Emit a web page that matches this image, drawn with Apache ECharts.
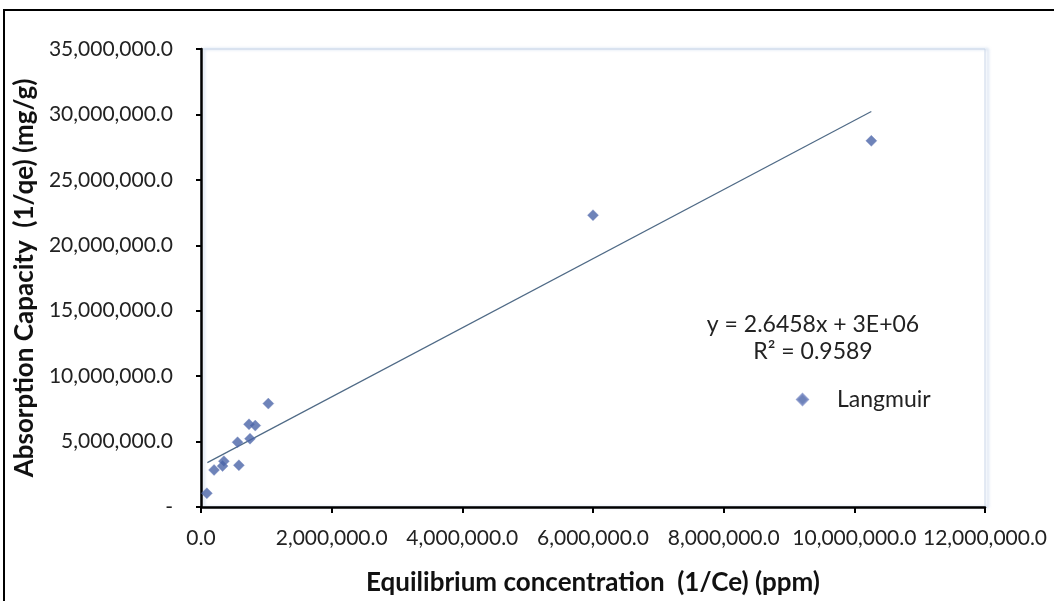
<!DOCTYPE html>
<html>
<head>
<meta charset="utf-8">
<script src="https://cdn.jsdelivr.net/npm/echarts@6/dist/echarts.min.js"></script>
<style>
  html, body { margin: 0; padding: 0; background: #fff; }
  #container { width: 1054px; height: 601px; }
</style>
</head>
<body>
<div id="container"></div>
<script>
// Langmuir points
var xValues = [90000, 200000, 330000, 350000, 580000, 560000, 750000, 735000, 830000, 1030000, 6000000, 10260000];
var yValues = [1050000, 2830000, 3130000, 3500000, 3190000, 4950000, 5220000, 6320000, 6220000, 7900000, 22300000, 27980000];
// trendline ends, as drawn in the picture
var trendX = [97000, 10260000];
var trendY = [3390000, 30220000];
var eqText = 'y = 2.6458x + 3E+06';
var r2Text = 'R² = 0.9589';

var font = 'Lato, "Open Sans", sans-serif';

function fmt(v) {
    return v.toLocaleString('en-US', { minimumFractionDigits: 1, maximumFractionDigits: 1 });
}

var points = [];
for (var i = 0; i < xValues.length; i++) {
    points.push([xValues[i], yValues[i]]);
}
var trend = [];
for (var j = 0; j < trendX.length; j++) {
    trend.push([trendX[j], trendY[j]]);
}

var myChart = echarts.init(document.getElementById('container'));
var option = {
    backgroundColor: '#fff',
    animation: false,
    grid: {
        left: 201, right: 69, top: 49, bottom: 94,
        outerBoundsMode: 'none',
        containLabel: false,
        show: true,
        borderColor: '#c9d6e8',
        borderWidth: 1,
        shadowColor: 'rgba(110,145,200,0.55)',
        shadowBlur: 3,
        shadowOffsetX: 3,
        shadowOffsetY: 0
    },
    legend: {
        data: [{ name: 'Langmuir', icon: 'diamond' }],
        left: 791,
        top: 383,
        itemWidth: 11,
        itemHeight: 11,
        textStyle: { fontFamily: font, fontSize: 23, color: '#222', padding: [0, 0, 0, 24] }
    },
    xAxis: {
        type: 'value',
        min: 0, max: 12000000, interval: 2000000,
        name: 'Equilibrium concentration  (1/Ce) (ppm)',
        nameLocation: 'middle',
        nameGap: 63,
        nameTextStyle: { fontFamily: font, fontSize: 26, fontWeight: 'bold', color: '#111' },
        axisLine: { show: true, lineStyle: { color: '#000', width: 2.5 } },
        axisTick: { show: true, length: 6, lineStyle: { color: '#000', width: 2 } },
        splitLine: { show: false },
        axisLabel: {
            fontFamily: font, fontSize: 21, color: '#222', margin: 21,
            formatter: function (v) { return fmt(v); }
        }
    },
    yAxis: {
        type: 'value',
        min: 0, max: 35000000, interval: 5000000,
        name: 'Absorption Capacity  (1/qe) (mg/g)',
        nameLocation: 'middle',
        nameGap: 157,
        nameTextStyle: { fontFamily: font, fontSize: 26, fontWeight: 'bold', color: '#111' },
        axisLine: { show: true, lineStyle: { color: '#000', width: 2.5 } },
        axisTick: { show: true, length: 5, lineStyle: { color: '#000', width: 2 } },
        splitLine: { show: false },
        axisLabel: {
            fontFamily: font, fontSize: 21, color: '#222', margin: 28,
            formatter: function (v) { return v === 0 ? '-' : fmt(v); }
        }
    },
    graphic: [
        {
            type: 'rect',
            shape: { x: 4, y: 10, width: 1070, height: 620 },
            style: { fill: 'none', stroke: '#000', lineWidth: 2 },
            silent: true
        },
        {
            type: 'text', x: 813, y: 325,
            style: { text: eqText, fontFamily: font, fontSize: 23, fill: '#222', align: 'center', verticalAlign: 'middle' }
        },
        {
            type: 'text', x: 813, y: 352,
            style: { text: r2Text, fontFamily: font, fontSize: 23, fill: '#222', align: 'center', verticalAlign: 'middle' }
        }
    ],
    series: [
        {
            name: 'Langmuir',
            type: 'scatter',
            symbol: 'diamond',
            symbolSize: 11,
            itemStyle: { color: '#4a64a8', borderColor: '#7a8cc4', borderWidth: 0.5 },
            data: points,
            z: 3
        },
        {
            name: 'trend',
            type: 'line',
            data: trend,
            symbol: 'none',
            lineStyle: { color: '#4f6a86', width: 1.2 },
            z: 2
        }
    ]
};
if (option && typeof option === "object") {
    myChart.setOption(option, true);
}
</script>
</body>
</html>
